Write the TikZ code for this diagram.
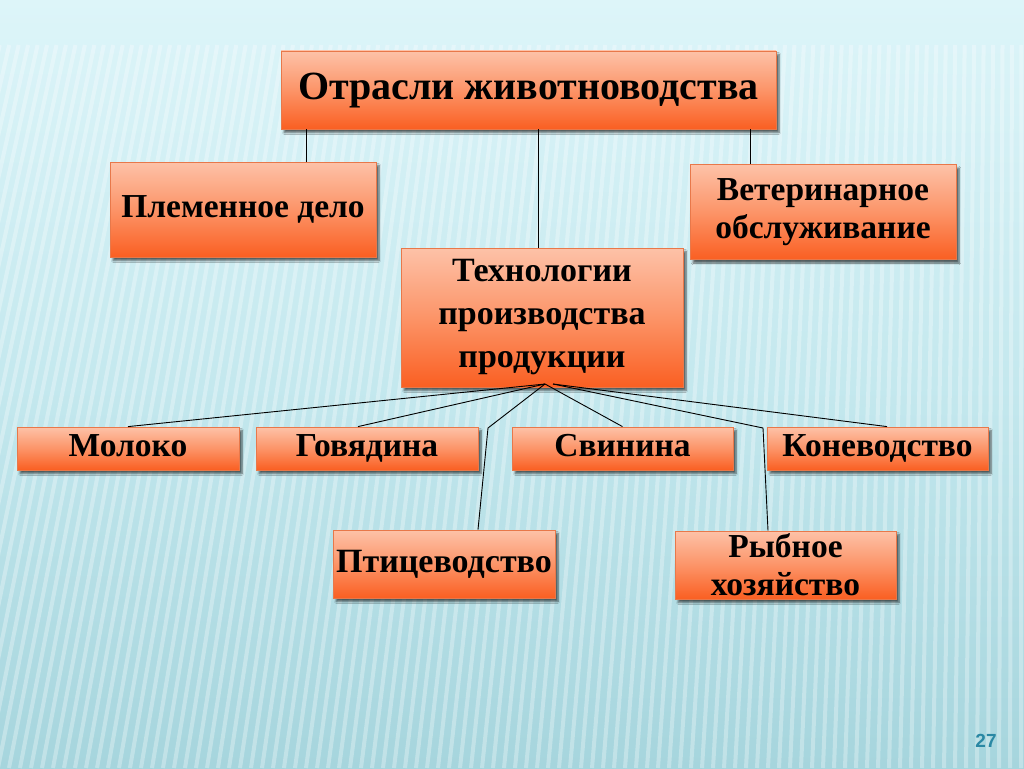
\documentclass[tikz,border=0pt]{standalone}
\usepackage{fontspec}
\setmainfont{Liberation Serif}
\newfontfamily\numfont{Liberation Sans}
\usetikzlibrary{shadows.blur,calc}
\definecolor{bgtop}{HTML}{DDF5F9}
\definecolor{bgmid}{HTML}{C4E8EE}
\definecolor{bgbot}{HTML}{A6D5DD}
\definecolor{boxtop}{HTML}{FDC2A8}
\definecolor{boxmid}{HTML}{FC9468}
\definecolor{boxbot}{HTML}{FA5F22}
\definecolor{boxline}{HTML}{E8784A}
\definecolor{numcol}{HTML}{2A88A4}
\begin{document}
\begin{tikzpicture}[x=1pt,y=-1pt,
  box/.style={draw=boxline, line width=0.8pt, top color=boxtop, bottom color=boxbot, middle color=boxmid,
    blur shadow={shadow xshift=3pt, shadow yshift=-3.5pt, shadow blur steps=6, shadow opacity=60},
    font=\bfseries\fontsize{33.5}{38}\selectfont, inner sep=2pt},
  oneline/.style={text height=23pt, text depth=7pt},
  multi/.style={align=center},
  conn/.style={draw=black, line width=0.9pt}]
\useasboundingbox (0,0) rectangle (1024,768);
% background
\shade[top color=bgtop, bottom color=bgbot, middle color=bgmid] (0,0) rectangle (1024,768);
\begin{scope}
  \clip (0,45) rectangle (1024,768);
  \foreach \x in {-200,-189,...,1040}
    \draw[white, opacity=0.3, line width=4pt] (\x,768) -- ({\x+0.14*(1024-\x)},45);
\end{scope}
% nodes
\node[box, text height=27pt, text depth=8pt, minimum width=495, minimum height=78, font=\bfseries\fontsize{40}{44}\selectfont] (title) at (528.5,90) {Отрасли животноводства};
\node[box, oneline, minimum width=266, minimum height=95] (plem) at (243,209.5) {Племенное дело};
\node[box, multi, minimum width=266, minimum height=95] (vet) at (823,212) {Ветеринарное\\обслуживание};
\node[box, multi, minimum width=282, minimum height=139, font=\bfseries\fontsize{34}{43}\selectfont] (tech) at (542,317.5) {Технологии\\производства\\продукции};
\node[box, oneline, minimum width=222, minimum height=43] (mol) at (128,448.5) {Молоко};
\node[box, oneline, minimum width=222, minimum height=43] (gov) at (367,448.5) {Говядина};
\node[box, oneline, minimum width=221, minimum height=43] (svin) at (622.5,448.5) {Свинина};
\node[box, oneline, minimum width=221, minimum height=43] (kon) at (877.5,448.5) {Коневодство};
\node[box, oneline, minimum width=222, minimum height=68, font=\bfseries\fontsize{34}{38}\selectfont] (ptic) at (444,564) {Птицеводство};
\node[box, multi, minimum width=221, minimum height=68] (ryb) at (785.5,565) {Рыбное\\хозяйство};
\node[font=\numfont\bfseries\fontsize{19}{21}\selectfont, text=numcol] (pn) at (986,741) {27};
% connector helper coordinates
\coordinate (c1) at (306,0);
\coordinate (c2) at (538,0);
\coordinate (c3) at (750,0);
\coordinate (fl) at (545,384);
\coordinate (fr) at (553,384);
\coordinate (g1) at (358,0);
\coordinate (k1) at (887,0);
\coordinate (pb) at (488,428);
\coordinate (p1) at (478,0);
\coordinate (rb) at (763,428);
\coordinate (r1) at (768,0);
% connectors
\draw[conn] (title.south -| c1) -- (plem.north -| c1);
\draw[conn] (title.south -| c2) -- (tech.north -| c2);
\draw[conn] (title.south -| c3) -- (vet.north -| c3);
\draw[conn] (fl) -- (mol.north);
\draw[conn] (fl) -- (gov.north -| g1);
\draw[conn] (fl) -- (svin.north);
\draw[conn] (fl) -- (pb) -- (ptic.north -| p1);
\draw[conn] (fr) -- (kon.north -| k1);
\draw[conn] (fr) -- (rb) -- (ryb.north -| r1);
\end{tikzpicture}
\end{document}
